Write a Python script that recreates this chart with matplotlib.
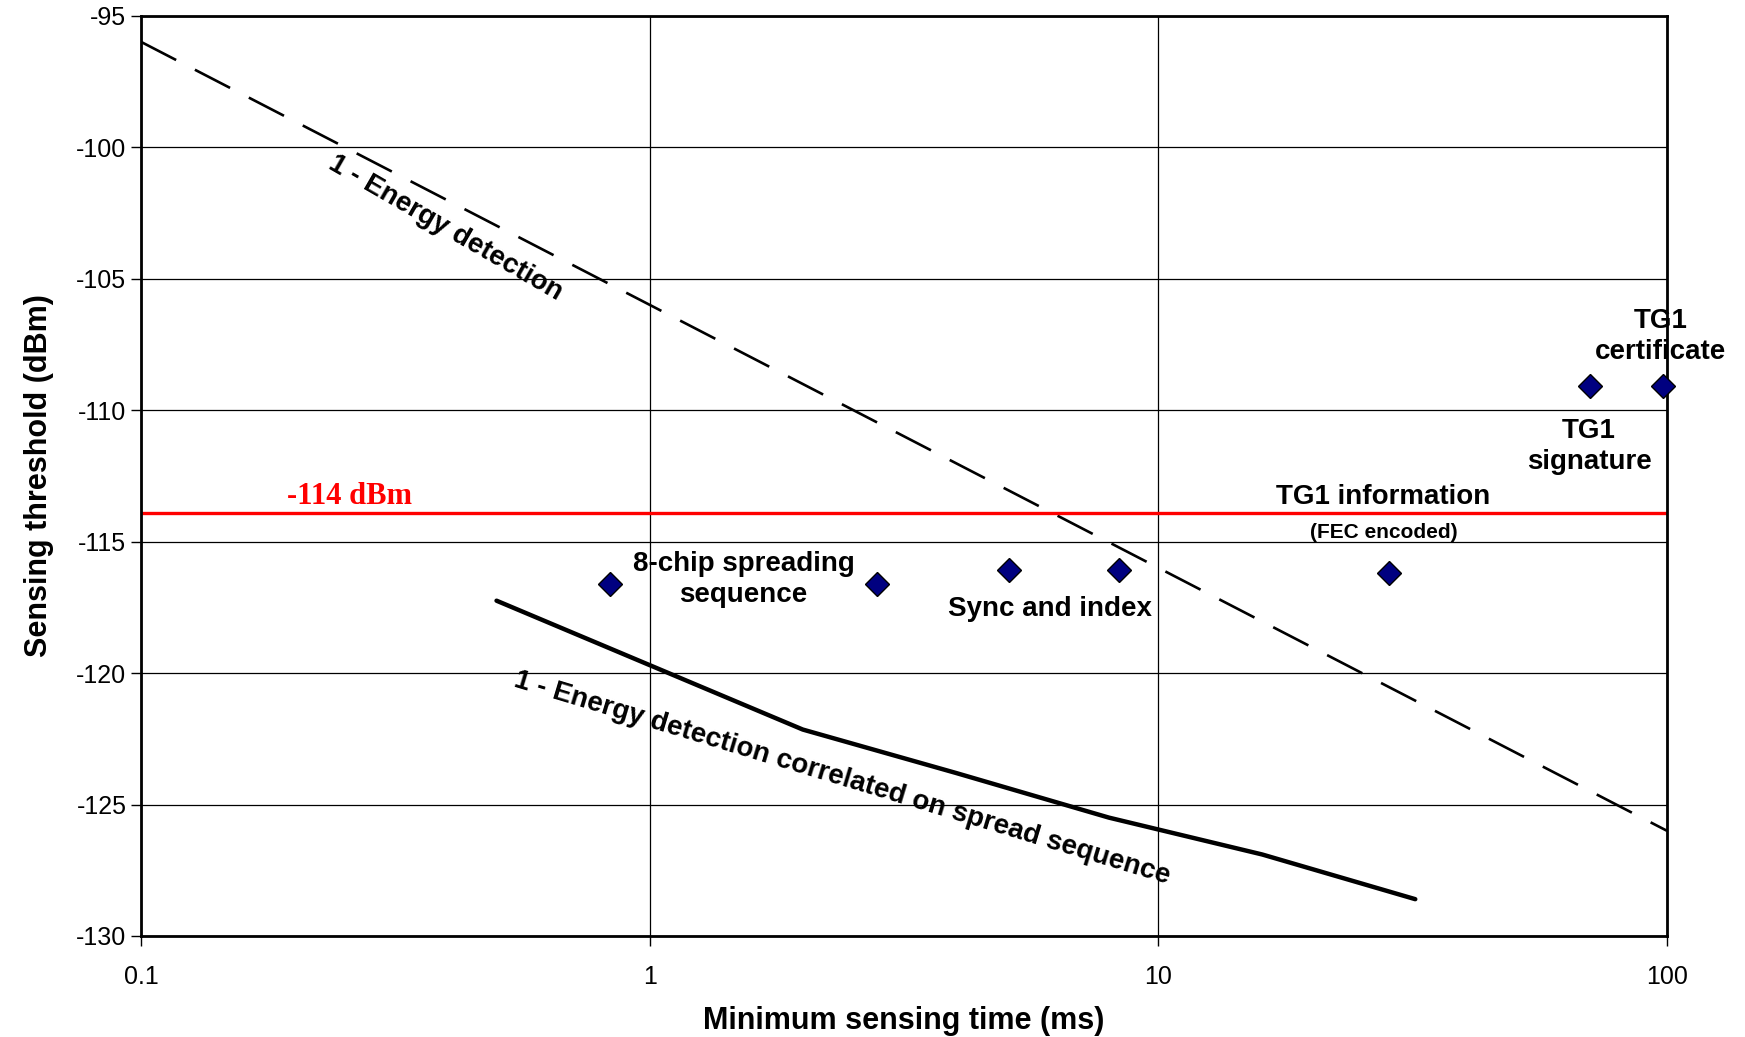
"""
Sensing threshold vs minimum sensing time
"""
import matplotlib
matplotlib.use("Agg")
import matplotlib.pyplot as plt

plt.rcParams['font.family'] = ['Liberation Sans', 'DejaVu Sans']
plt.rcParams['axes.unicode_minus'] = False

# energy detection (dashed)
energy_x = [0.1, 100]
energy_y = [-96, -126]

# energy detection correlated on spread sequence (solid)
corr_x = [0.5, 1, 2, 4, 8, 16, 32]
corr_y = [-117.25, -119.7, -122.15, -123.8, -125.5, -126.9, -128.6]

# diamond markers
points_x = [0.834, 2.8, 5.09, 8.38, 28.4, 70.6, 98.0]
points_y = [-116.6, -116.6, -116.1, -116.1, -116.2, -109.1, -109.1]

threshold = -113.9
yticks = [-95, -100, -105, -110, -115, -120, -125, -130]
xticks = [0.1, 1, 10, 100]
xtick_labels = ["0.1", "1", "10", "100"]

fig = plt.figure(figsize=(17.45, 10.37), dpi=100)
ax = fig.add_axes([0.0808, 0.0974, 0.8745, 0.8876])

ax.set_xscale('log')
ax.set_xlim(0.1, 100)
ax.set_ylim(-130, -95)

ax.grid(True, which='major', color='black', linewidth=0.9)
ax.grid(False, which='minor')
ax.set_axisbelow(True)

ax.plot(energy_x, energy_y, color='black', linewidth=1.9, dashes=(15, 8))
ax.plot(corr_x, corr_y, color='black', linewidth=3.2, solid_capstyle='round')
ax.axhline(threshold, color='#ff0000', linewidth=2.4)
ax.plot(points_x, points_y, linestyle='none', marker='D', markersize=12.5,
        markerfacecolor='#000080', markeredgecolor='black', markeredgewidth=1,
        clip_on=False, zorder=5)

ax.set_yticks(yticks)
ax.set_xticks(xticks)
ax.set_xticklabels(xtick_labels)
ax.minorticks_off()
ax.tick_params(axis='both', labelsize=18, direction='out', length=7, width=1)
ax.tick_params(axis='x', pad=14)
for side in ax.spines.values():
    side.set_linewidth(2)

ax.set_xlabel("Minimum sensing time (ms)", fontsize=22, fontweight='bold', labelpad=12)
ax.set_ylabel("Sensing threshold (dBm)", fontsize=22, fontweight='bold', labelpad=16)

bold = dict(fontsize=20, fontweight='bold', ha='center', va='center')
ax.text(0.257, -113.3, "-114 dBm", color='#ff0000', fontsize=22, fontweight='bold',
        family='Liberation Serif', ha='center', va='center')
ax.text(0.396, -103.1, "1 - Energy detection", rotation=-30,
        rotation_mode='anchor', **bold)
ax.text(2.39, -124.0, "1 - Energy detection correlated on spread sequence",
        rotation=-16.8, rotation_mode='anchor', **bold)
ax.text(1.53, -116.45, "8-chip spreading\nsequence", linespacing=1.25, **bold)
ax.text(6.13, -117.55, "Sync and index", **bold)
ax.text(27.7, -113.3, "TG1 information", **bold)
ax.text(27.7, -114.65, "(FEC encoded)", fontsize=15, fontweight='bold',
        ha='center', va='center')
ax.text(70.3, -111.4, "TG1\nsignature", linespacing=1.25, **bold)
ax.text(97.0, -107.2, "TG1\ncertificate", linespacing=1.25, **bold)

fig.savefig("out.png", dpi=100)
